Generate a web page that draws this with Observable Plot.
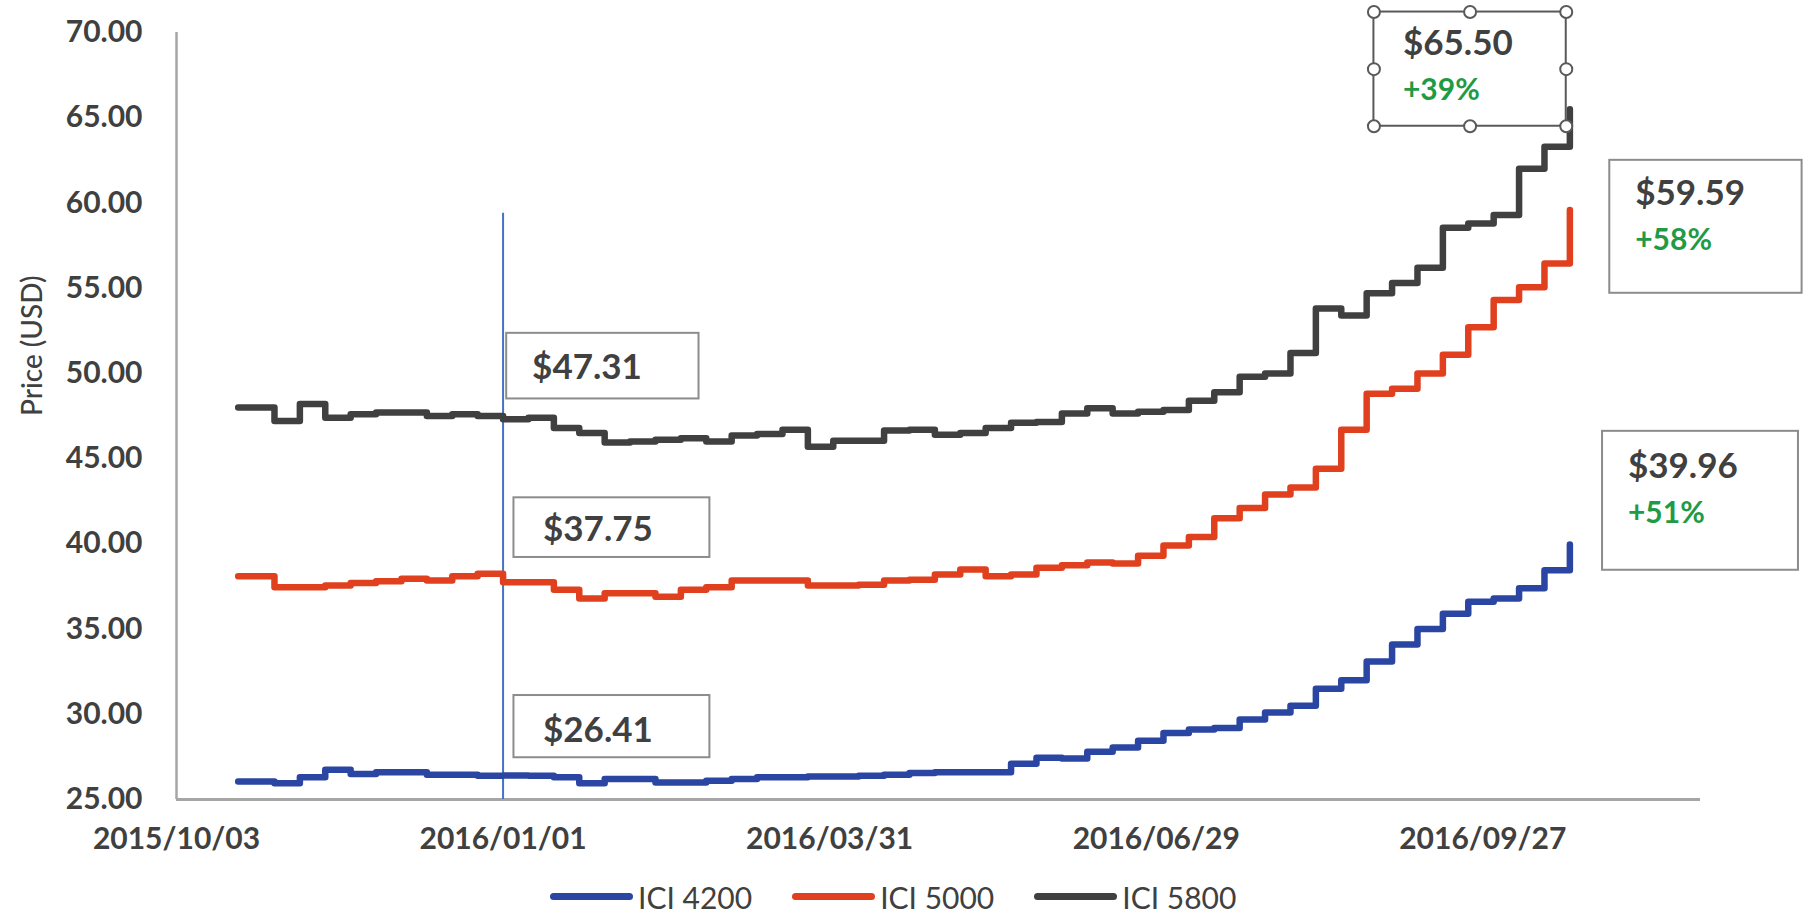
<!DOCTYPE html>
<html><head><meta charset="utf-8">
<script src="https://cdn.jsdelivr.net/npm/d3@7"></script>
<script src="https://cdn.jsdelivr.net/npm/@observablehq/plot@0.6"></script>
<style>
body{margin:0;background:#fff;font-family:Lato, sans-serif;}
#chart{width:1804px;height:917px;overflow:hidden;}
#chart svg{display:block;overflow:visible;}
g[aria-label="y-axis tick label"]{font-size:30px;font-weight:700;fill:#404040;}
g[aria-label="x-axis tick label"]{font-size:30px;font-weight:700;fill:#404040;}
.legend{height:55px;display:flex;align-items:center;gap:40px;padding-left:550px;box-sizing:border-box;padding-top:14px;}
.item{display:flex;align-items:center;}
.sw{width:83px;height:7px;border-radius:4px;margin-right:5px;}
.lab{font-size:30px;color:#404040;line-height:30px;}
</style></head><body>
<div id="chart"></div>
<script>
// ---- data ----
const dates = ["2015-10-20","2015-10-30","2015-11-06","2015-11-13","2015-11-20","2015-11-27","2015-12-04","2015-12-11","2015-12-18","2015-12-25","2016-01-01","2016-01-08","2016-01-15","2016-01-22","2016-01-29","2016-02-05","2016-02-12","2016-02-19","2016-02-26","2016-03-04","2016-03-11","2016-03-18","2016-03-25","2016-04-01","2016-04-08","2016-04-15","2016-04-22","2016-04-29","2016-05-06","2016-05-13","2016-05-20","2016-05-27","2016-06-03","2016-06-10","2016-06-17","2016-06-24","2016-07-01","2016-07-08","2016-07-15","2016-07-22","2016-07-29","2016-08-05","2016-08-12","2016-08-19","2016-08-26","2016-09-02","2016-09-09","2016-09-16","2016-09-23","2016-09-30","2016-10-07","2016-10-14","2016-10-21"];
const ici4200 = [26.05,25.95,26.3,26.75,26.5,26.6,26.6,26.45,26.45,26.4,26.41,26.4,26.3,25.95,26.2,26.2,26.0,26.0,26.1,26.2,26.3,26.3,26.35,26.35,26.4,26.45,26.55,26.6,26.6,26.6,27.1,27.45,27.4,27.8,28.05,28.45,28.9,29.1,29.2,29.7,30.1,30.5,31.5,32.0,33.1,34.1,35.0,35.9,36.6,36.8,37.4,38.45,39.96];
const ici5000 = [38.1,37.45,37.45,37.55,37.7,37.8,37.95,37.85,38.1,38.25,37.75,37.75,37.3,36.8,37.1,37.1,36.9,37.3,37.45,37.85,37.85,37.85,37.55,37.55,37.6,37.85,37.9,38.2,38.5,38.1,38.2,38.6,38.75,38.9,38.85,39.3,39.9,40.4,41.5,42.1,42.9,43.3,44.4,46.7,48.8,49.1,50.0,51.1,52.7,54.3,55.05,56.45,59.59];
const ici5800 = [48.0,47.2,48.2,47.4,47.6,47.7,47.7,47.5,47.6,47.5,47.31,47.4,46.8,46.5,45.95,46.0,46.1,46.2,46.0,46.35,46.45,46.7,45.7,46.05,46.05,46.65,46.7,46.4,46.5,46.8,47.1,47.15,47.65,47.95,47.65,47.75,47.85,48.4,48.9,49.8,50.0,51.2,53.8,53.4,54.7,55.3,56.2,58.55,58.8,59.3,62.0,63.3,65.5];
const seriesNames = ["ICI 4200","ICI 5000","ICI 5800"];
const xTickDates = ["2015-10-03","2016-01-01","2016-03-31","2016-06-29","2016-09-27"];
const yTicks = [25,30,35,40,45,50,55,60,65,70];
const refDate = "2016-01-01";
const refLabels = ["$47.31","$37.75","$26.41"];
const endLabels = ["$65.50","$59.59","$39.96"];
const endChanges = ["+39%","+58%","+51%"];
const yTitle = "Price (USD)";

// ---- styles ----
const seriesColors = ["#2b45a3","#e0401e","#404040"];
const parse = d3.utcParse("%Y-%m-%d");
const series = [ici4200, ici5000, ici5800];
const rows = [];
seriesNames.forEach((name, i) => dates.forEach((d, j) => rows.push({date: parse(d), value: series[i][j], series: name})));

// annotation layout (data units)
const refBoxes = [
  {x1: "2016-01-02", x2: "2016-02-24", y1: 48.5, y2: 52.35, tx: "2016-01-09", ty: 50.3, label: refLabels[0]},
  {x1: "2016-01-04", x2: "2016-02-27", y1: 39.2, y2: 42.7, tx: "2016-01-12", ty: 40.8, label: refLabels[1]},
  {x1: "2016-01-04", x2: "2016-02-27", y1: 27.45, y2: 31.1, tx: "2016-01-12", ty: 29.05, label: refLabels[2]}
];
const endBoxes = [
  {x1: "2016-08-28", x2: "2016-10-20", y1: 64.5, y2: 71.2, tx: "2016-09-05", ty: 69.35, cy: 66.6, label: endLabels[0], change: endChanges[0], stroke: "#595959"},
  {x1: "2016-11-01", x2: "2016-12-24", y1: 54.7, y2: 62.5, tx: "2016-11-08", ty: 60.55, cy: 57.8, label: endLabels[1], change: endChanges[1], stroke: "#8c8c8c"},
  {x1: "2016-10-30", x2: "2016-12-23", y1: 38.45, y2: 46.6, tx: "2016-11-06", ty: 44.5, cy: 41.8, label: endLabels[2], change: endChanges[2], stroke: "#8c8c8c"}
];
const allBoxes = [...refBoxes.map(b => ({...b, stroke: "#8c8c8c"})), ...endBoxes];
const hb = endBoxes[0];
const hxm = new Date((parse(hb.x1).getTime() + parse(hb.x2).getTime()) / 2);
const handles = [
  [parse(hb.x1), hb.y1], [hxm, hb.y1], [parse(hb.x2), hb.y1],
  [parse(hb.x1), (hb.y1 + hb.y2) / 2], [parse(hb.x2), (hb.y1 + hb.y2) / 2],
  [parse(hb.x1), hb.y2], [hxm, hb.y2], [parse(hb.x2), hb.y2]
];

const plot = Plot.plot({
  width: 1804, height: 862,
  marginLeft: 176, marginRight: 104, marginTop: 32, marginBottom: 63,
  style: {fontFamily: "Lato, sans-serif", background: "#fff", overflow: "visible"},
  x: {type: "utc", domain: [parse("2015-10-03"), parse("2016-11-26")]},
  y: {domain: [25, 70]},
  color: {domain: seriesNames, range: seriesColors},
  marks: [
    Plot.axisY({ticks: yTicks, tickFormat: d => d.toFixed(2), tickSize: 0, tickPadding: 34, label: null}),
    Plot.axisX({ticks: xTickDates.map(parse), tickFormat: d3.utcFormat("%Y/%m/%d"), tickSize: 0, tickPadding: 28, label: null}),
    Plot.ruleX([parse("2015-10-03")], {stroke: "#a6a6a6", strokeWidth: 2.5}),
    Plot.ruleY([25], {stroke: "#a6a6a6", strokeWidth: 3}),
    Plot.text([yTitle], {frameAnchor: "left", dx: -143, rotate: -90, fontSize: 28, fill: "#404040", fontWeight: 500}),
    Plot.ruleX([parse(refDate)], {y1: 25, y2: 59.4, stroke: "#4472c4", strokeWidth: 2}),
    Plot.line(rows, {x: "date", y: "value", z: "series", stroke: "series", strokeWidth: 6.5, curve: "step-after", strokeLinejoin: "round", strokeLinecap: "round"}),
    Plot.rect(allBoxes, {x1: d => parse(d.x1), x2: d => parse(d.x2), y1: "y1", y2: "y2", fill: "white", stroke: "stroke", strokeWidth: 2}),
    Plot.dot(handles, {x: d => d[0], y: d => d[1], r: 6, fill: "white", stroke: "#595959", strokeWidth: 2}),
    Plot.text(allBoxes, {x: d => parse(d.tx), y: "ty", text: "label", textAnchor: "start", fontSize: 35, fontWeight: "bold", fill: "#404040"}),
    Plot.text(endBoxes, {x: d => parse(d.tx), y: "cy", text: "change", textAnchor: "start", fontSize: 30, fontWeight: "bold", fill: "#1f9a45"})
  ]
});
const chart = document.getElementById("chart");
chart.appendChild(plot);
const legend = document.createElement("div");
legend.className = "legend";
seriesNames.forEach((name, i) => {
  const it = document.createElement("div"); it.className = "item";
  const sw = document.createElement("div"); sw.className = "sw"; sw.style.background = seriesColors[i];
  const lab = document.createElement("span"); lab.className = "lab"; lab.textContent = name;
  it.appendChild(sw); it.appendChild(lab); legend.appendChild(it);
});
chart.appendChild(legend);
</script>
</body></html>
